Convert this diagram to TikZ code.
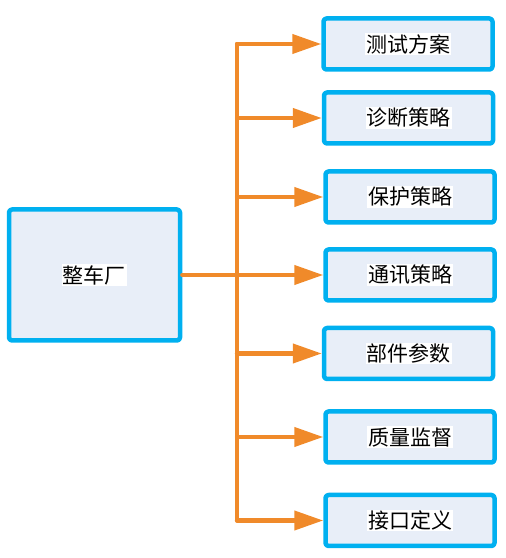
\documentclass[tikz,border=0pt]{standalone}
\usepackage{fontspec}
\setmainfont{Noto Sans CJK SC}
\usetikzlibrary{arrows.meta}
\definecolor{boxblue}{RGB}{0,176,240}
\definecolor{boxfill}{RGB}{232,238,248}
\definecolor{linkorange}{RGB}{240,138,42}
\setlength{\fboxsep}{1pt}
\begin{document}
\begin{tikzpicture}[x=1pt, y=1pt, line cap=round, line join=round, font=\fontsize{21}{24}\selectfont]
	\tikzset{
		unit/.style={draw=boxblue, line width=4.5pt, fill=boxfill, rounded corners=3pt, minimum width=169pt, minimum height=51pt, inner sep=0pt},
		link/.style={draw=linkorange, line width=4.2pt},
		feed/.style={link, -{Triangle[length=29pt, width=19pt]}}
	}
	\useasboundingbox (0,0) rectangle (506,558);
	\node[unit, minimum width=171pt, minimum height=131pt] (plant) at (94.5,283) {\colorbox{white}{整车厂}};
	\foreach \i/\lbl/\px/\py in {
		1/测试方案/408/514,
		2/诊断策略/408.5/440,
		3/保护策略/410/361,
		4/通讯策略/410/283,
		5/部件参数/408.5/204.5,
		6/质量监督/410/121,
		7/接口定义/410/37.5
	} {
		\node[unit] (task\i) at (\px,\py) {\colorbox{white}{\lbl}};
	}
	\coordinate (trunk) at (237,283);
	\draw[link] (trunk |- task1.west) -- (trunk |- task7.west);
	\draw[link] (plant.east) -- (trunk);
	\foreach \i in {1,...,7}
		\draw[feed] (trunk |- task\i.west) -- (task\i.west);
\end{tikzpicture}
\end{document}
